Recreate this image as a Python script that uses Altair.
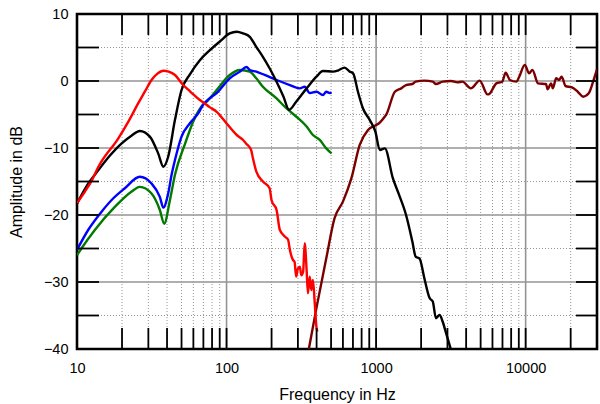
import altair as alt
import pandas as pd

# ---------------- data ----------------
red_f = [10, 11.3, 12.6, 13.9, 18.9, 22.0, 25.7, 28.4, 31.5, 34.5, 37.8, 41, 45.2, 51.3, 55.5, 60, 66.3, 70, 77,
         85.9, 99.8, 117, 129, 136, 146, 150, 158, 175, 194, 200, 216, 227, 245, 258, 265, 278, 285, 292, 300,
         309, 316, 325, 333, 343, 350, 360, 369, 378, 389, 399, 405]
red_db = [-18.2, -16.5, -14.8, -12.8, -8.55, -6.1, -3.3, -1.6, 0.15, 1.1, 1.54, 1.4, 0.9, -0.6, -1.3, -2.0, -2.84, -3.2, -3.9,
          -4.6, -6.3, -8.06, -8.8, -9.4, -10.3, -11.5, -13.5, -15.0, -16.0, -17.8, -19.25, -22.2, -23.2, -23.7, -25.2, -26.7, -27.0, -29.2, -28.0,
          -27.7, -29.0, -28.5, -24.2, -28.2, -31.7, -29.2, -31.2, -29.7, -33.2, -36.7, -37.4]

black_f = [10, 11.9, 13.9, 16.5, 19.9, 23, 26.3, 30.7, 34.9, 37.8, 40.7, 45.2, 50, 56.9, 66.3, 77.3, 90.2, 105,
           117, 129, 143, 158, 175, 194, 216, 240, 262, 292, 343, 399, 441, 516, 560, 616, 666, 702, 756, 817, 906,
           990, 1059, 1145, 1294, 1425, 1586, 1749, 1838, 1954, 2100, 2280, 2393, 2513, 2660, 2786, 2918, 3155]
black_db = [-18.3, -15.3, -13.3, -11.2, -9.3, -8.2, -7.46, -8.3, -10.8, -12.8, -11.3, -5.8, -1.34, 1.0, 3.1, 4.6, 5.9, 7.1,
            7.36, 7.1, 6.6, 5.1, 3.6, 1.9, -0.1, -2.3, -4.3, -3.1, -1.1, 0.64, 1.5, 1.4, 1.6, 2.0, 1.4, 1.15, -1.6, -4.1, -5.8,
            -7.6, -10.3, -10.05, -14.5, -17.0, -20.0, -24.0, -26.2, -26.5, -29.4, -32.4, -32.9, -35.4, -34.9, -35.9, -37.4, -40.0]

blue_f = [10, 11.9, 14.6, 17.5, 20.9, 26.3, 31.5, 35.8, 37.8, 40.7, 42.9, 45.2, 50, 56.9, 64.8, 69.9, 77, 85.9, 105,
          123, 136, 143, 158, 180, 216, 265, 309, 333, 360, 399, 441, 464, 490, 504]
blue_db = [-25.2, -22.2, -19.5, -17.5, -16.0, -14.3, -15.3, -17.3, -18.9, -16.8, -14.0, -11.8, -8.3, -6.3, -4.8, -3.5, -2.6, -1.8, 0.4,
           1.4, 2.1, 1.64, 1.4, 0.9, 0.15, -0.6, -1.1, -0.85, -1.8, -1.6, -2.1, -1.6, -1.8, -1.7]

green_f = [10, 10.7, 13.2, 17.9, 23.2, 26.3, 31.5, 35.8, 38.3, 41.8, 45.2, 52.9, 60, 69.9, 73.5, 85.9, 105, 123, 143,
           158, 175, 216, 252, 292, 343, 378, 420, 464, 504]
green_db = [-26.0, -25.0, -22.2, -18.8, -16.5, -15.8, -16.8, -19.25, -21.3, -17.8, -14.0, -9.3, -6.0, -3.5, -3.1, -1.34, 0.9, 1.64, 1.4,
            0.4, -0.85, -2.6, -4.1, -5.3, -6.8, -8.06, -8.8, -10.05, -10.8]

maroon_f = [355, 399, 464, 527, 600, 684, 777, 883, 995, 1047, 1145, 1170, 1335, 1474, 1586, 1749, 1838, 2100, 2393,
            2513, 2786, 3170, 3500, 3780, 4300, 4930, 5560, 5700, 6370, 6970, 7350, 7850, 8680, 9060, 9870, 10550,
            11100, 12100, 13700, 14000, 14800, 15200, 16000, 16700, 17400, 18500, 20400, 22300, 24200, 26400, 28700, 30000]
maroon_db = [-40, -33.9, -26.5, -20.5, -18.0, -14.5, -9.55, -7.3, -6.6, -6.3, -5.3, -5.0, -1.6, -1.1, -0.6, -0.45, -0.1, 0.05, -0.1,
             -0.45, -0.1, 0.0, -0.2, -0.1, -1.1, 0.05, -2.0, -1.95, -0.35, -0.1, 1.24, 0.15, -0.1, 0.64, 2.4, 1.15,
             1.64, -0.35, -0.45, -1.24, -0.35, -1.1, 0.4, 0.15, 0.64, -0.75, -0.95, -1.6, -2.34, -1.84, 0.4, 1.74]

x_labels = [10, 100, 1000, 10000]
y_labels = [-40, -30, -20, -10, 0, 10]
x_major = [100, 1000, 10000]
x_minor = [20, 30, 40, 50, 60, 70, 80, 90, 200, 300, 400, 500, 600, 700, 800, 900,
           2000, 3000, 4000, 5000, 6000, 7000, 8000, 9000, 20000]
y_major = [-30, -20, -10, 0]
y_minor = [-35, -25, -15, -5, 5]

# ---------------- chart ----------------
W, H = 520, 335
FONT = "Liberation Sans"

x_scale = alt.Scale(type="log", domain=[10, 30000], nice=False)
y_scale = alt.Scale(domain=[-40, 10], nice=False, zero=False)

x_axis = alt.Axis(values=x_labels, format="d", title="Frequency in Hz", grid=False, ticks=False, tickSize=0,
                  domain=False, labelFont=FONT, labelFontSize=14.5, labelColor="black", labelBaseline="alphabetic",
                  labelPadding=23, labelFlush=False, labelOverlap=False, titleFont=FONT, titleFontSize=16,
                  titleFontWeight="normal", titleColor="black", titleY=50, titleBaseline="alphabetic")
y_axis = alt.Axis(values=y_labels, title="Amplitude in dB", grid=False, ticks=False, tickSize=0,
                  domain=False, labelFont=FONT, labelFontSize=14.5, labelColor="black", labelPadding=9,
                  labelFlush=False, labelOverlap=False, titleFont=FONT, titleFontSize=16,
                  titleFontWeight="normal", titleColor="black", titleX=-55.5, titleBaseline="alphabetic")

X = alt.X("f:Q", scale=x_scale, axis=x_axis)
Y = alt.Y("db:Q", scale=y_scale, axis=y_axis)

GRAY = "#949494"

vx_major = alt.Chart(pd.DataFrame({"f": x_major})).mark_rule(color=GRAY, strokeWidth=1.6).encode(
    x=X, y=alt.value(0), y2=alt.value(H))
vx_minor = alt.Chart(pd.DataFrame({"f": x_minor})).mark_rule(color=GRAY, strokeWidth=1, strokeDash=[1, 2]).encode(
    x=X, y=alt.value(0), y2=alt.value(H))
hy_major = alt.Chart(pd.DataFrame({"db": y_major})).mark_rule(color=GRAY, strokeWidth=1.6).encode(
    y=Y, x=alt.value(0), x2=alt.value(W))
hy_minor = alt.Chart(pd.DataFrame({"db": y_minor})).mark_rule(color=GRAY, strokeWidth=1, strokeDash=[1, 2]).encode(
    y=Y, x=alt.value(0), x2=alt.value(W))

TL = 21
ticks_x_all = pd.DataFrame({"f": x_minor + x_major})
ticks_y_all = pd.DataFrame({"db": sorted(y_minor + y_major)})
t_top = alt.Chart(ticks_x_all).mark_rule(color="black", strokeWidth=1.8).encode(x=X, y=alt.value(0), y2=alt.value(TL))
t_bot = alt.Chart(ticks_x_all).mark_rule(color="black", strokeWidth=1.8).encode(x=X, y=alt.value(H), y2=alt.value(H - TL))
t_left = alt.Chart(ticks_y_all).mark_rule(color="black", strokeWidth=1.8).encode(y=Y, x=alt.value(0), x2=alt.value(TL + 1))
t_right = alt.Chart(ticks_y_all).mark_rule(color="black", strokeWidth=1.8).encode(y=Y, x=alt.value(W), x2=alt.value(W - TL))

series = [
    (maroon_f, maroon_db, "#7a0000"),
    (green_f, green_db, "#007a00"),
    (blue_f, blue_db, "#0000ff"),
    (black_f, black_db, "#000000"),
    (red_f, red_db, "#ff0000"),
]
lines = []
for fs, dbs, col in series:
    df = pd.DataFrame({"f": fs, "db": dbs})
    lines.append(alt.Chart(df).mark_line(color=col, strokeWidth=2.4, clip=True, strokeJoin="round",
                                         interpolate="monotone").encode(
        x=X, y=Y, order=alt.Order("f:Q")))

chart = alt.layer(vx_minor, hy_minor, vx_major, hy_major, *lines, t_top, t_bot, t_left, t_right).properties(
    width=W, height=H,
    autosize=alt.AutoSizeParams(type="none"),
    padding={"left": 77, "top": 14, "right": 3, "bottom": 55},
    background="white",
).configure_view(stroke="black", strokeWidth=2.6)

chart.save("out.html", embed_options={"renderer": "svg", "actions": False})
